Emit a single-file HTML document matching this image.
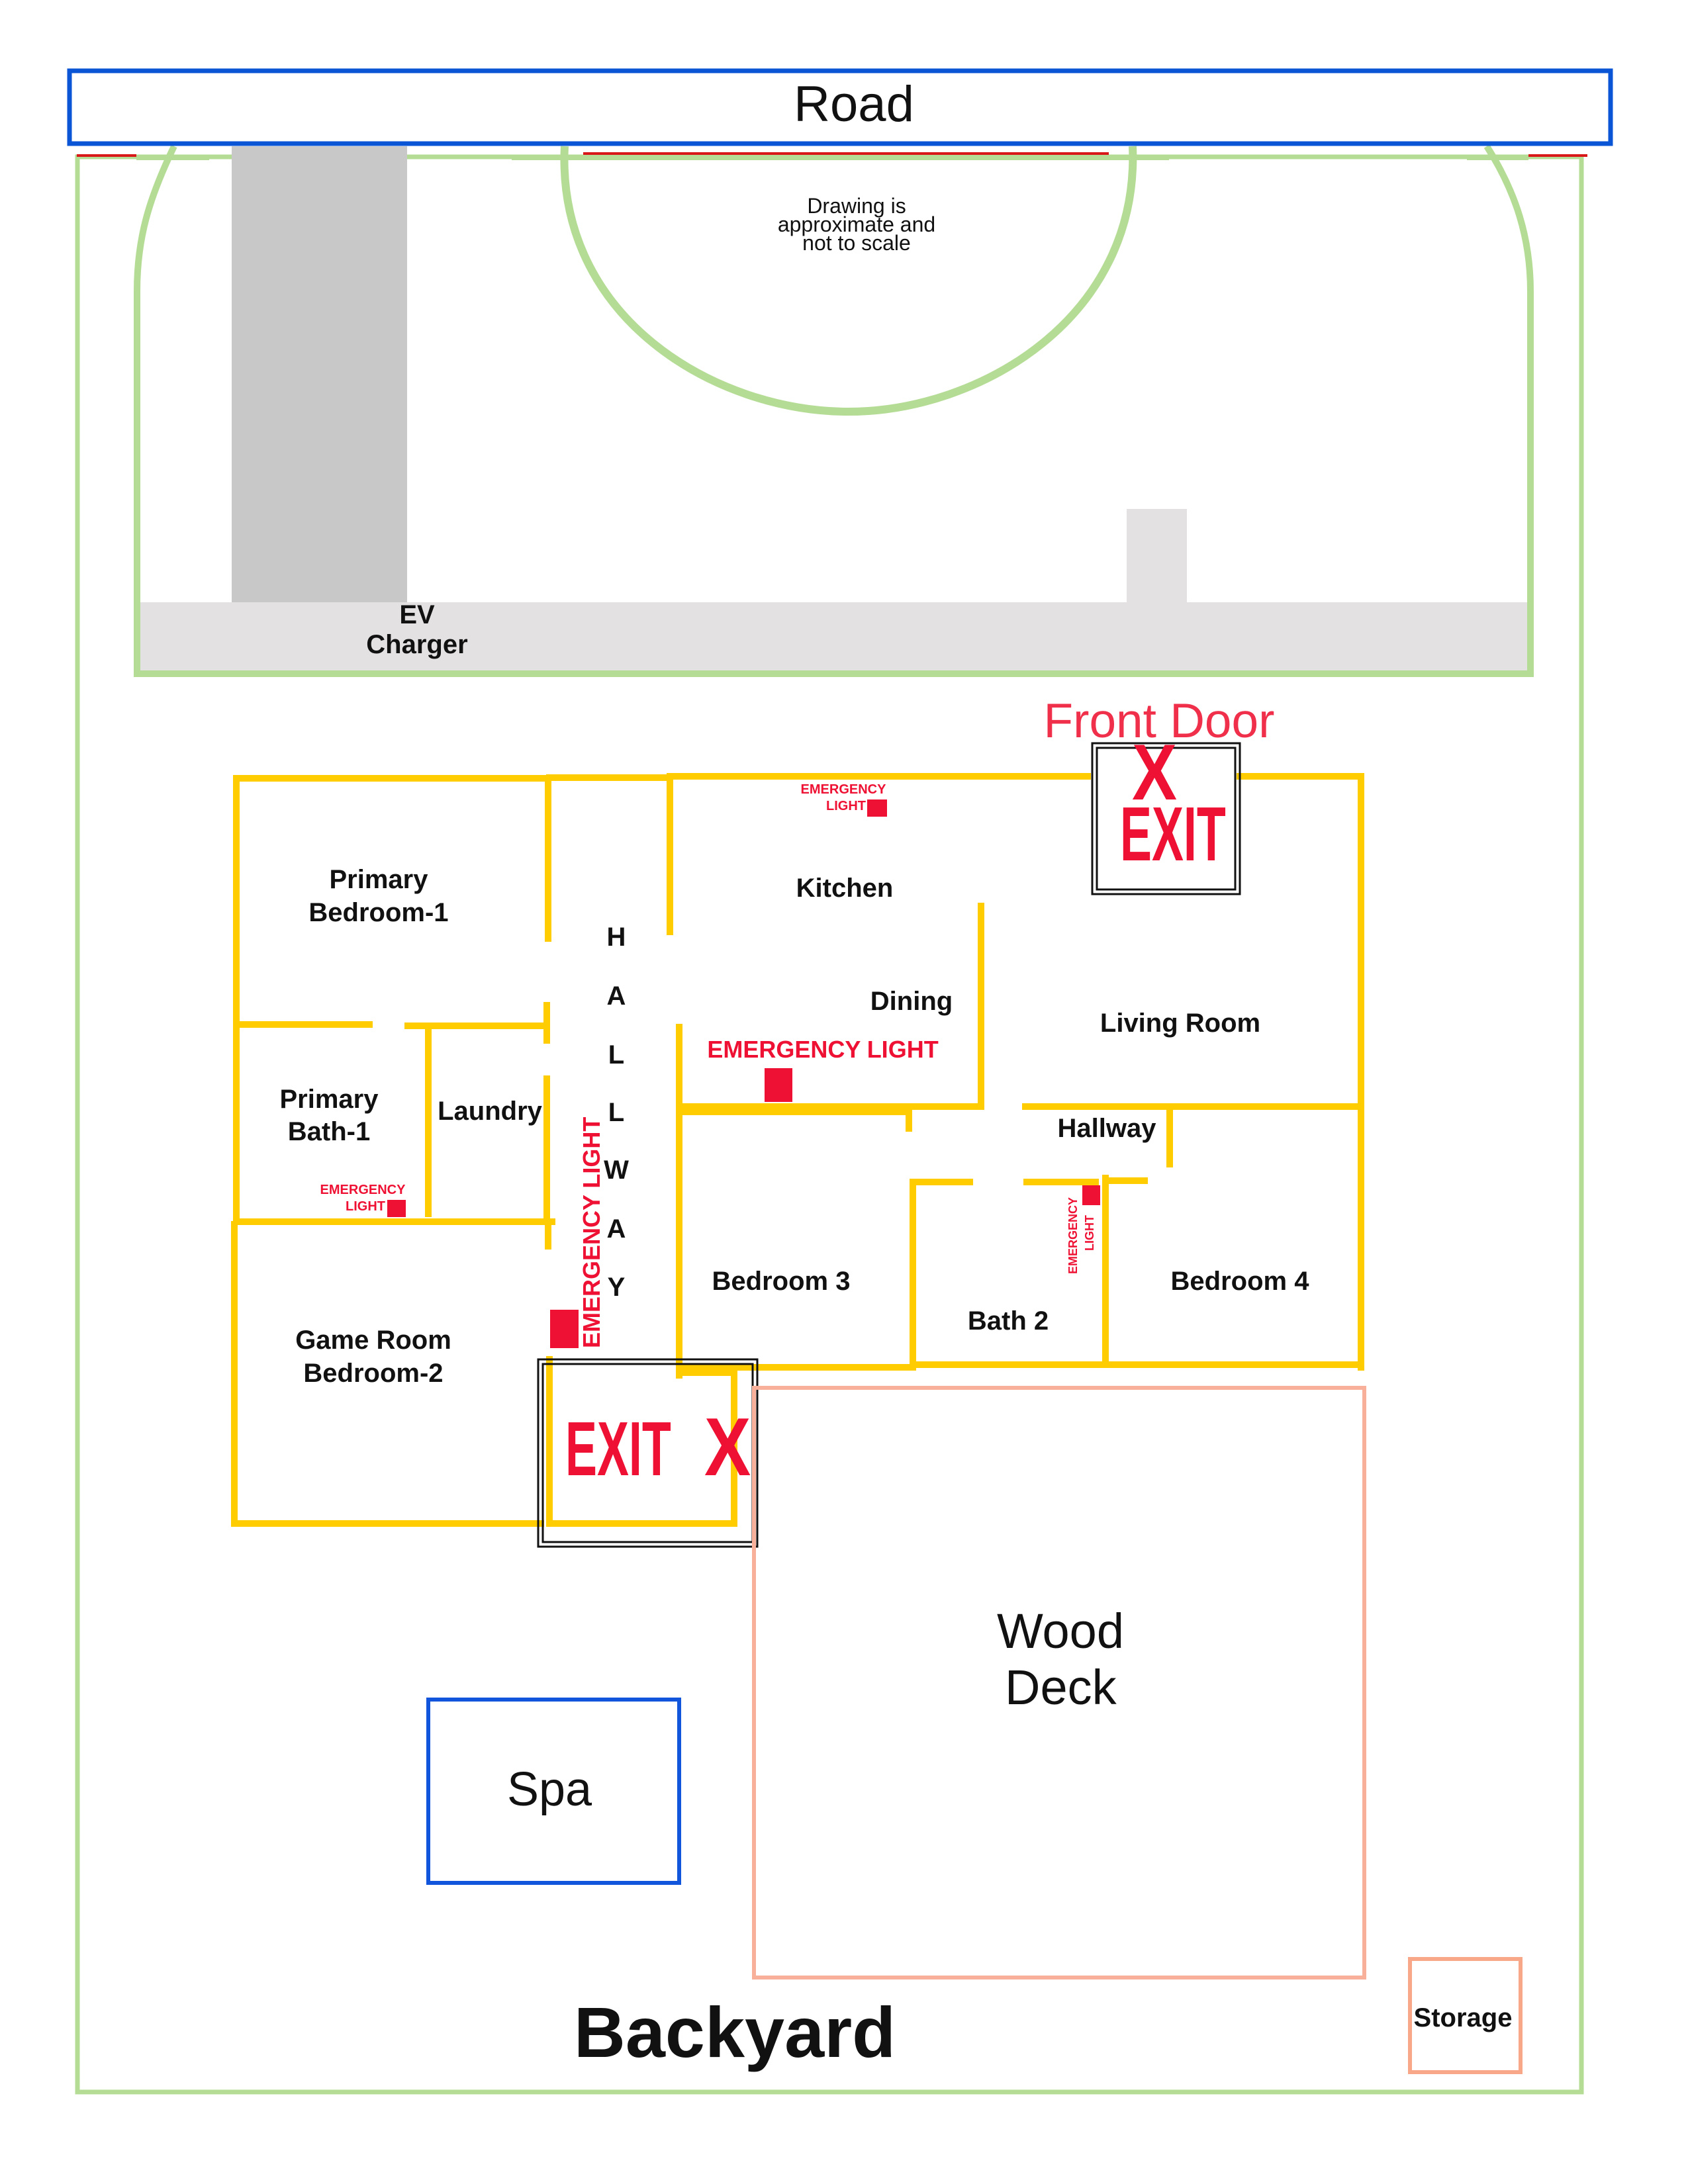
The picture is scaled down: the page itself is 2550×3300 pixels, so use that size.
<!DOCTYPE html>
<html><head><meta charset="utf-8"><style>
html,body{margin:0;padding:0;background:#fff;}
svg{display:block;}
text{font-family:"Liberation Sans",Arial,sans-serif;}
.b{font-weight:bold;fill:#111;font-size:40px;text-anchor:middle;}
.r{fill:#ee1133;font-weight:bold;}
</style></head><body>
<svg width="2550" height="3300" viewBox="0 0 2550 3300" xmlns="http://www.w3.org/2000/svg">
<rect x="117" y="237" width="2272" height="2924" fill="none" stroke="#b5dc95" stroke-width="7"/>
<g stroke="#b5dc95" stroke-width="8">
<line x1="206" y1="238" x2="316" y2="238"/><line x1="773" y1="238" x2="1766" y2="238"/><line x1="2216" y1="238" x2="2309" y2="238"/>
</g>
<g stroke="#d81818" stroke-width="4">
<line x1="116" y1="235" x2="206" y2="235"/><line x1="881" y1="232" x2="1675" y2="232"/><line x1="2309" y1="235" x2="2398" y2="235"/>
</g>
<rect x="350" y="221" width="265" height="689" fill="#c8c8c8"/>
<rect x="211" y="910" width="2096" height="104" fill="#e3e1e2"/>
<rect x="1702" y="769" width="91" height="141" fill="#e3e1e2"/>
<path d="M263,221 C225,300 207,360 207,440 L207,1018 L2312,1018 L2312,440 C2312,360 2290,290 2246,221" fill="none" stroke="#b5dc95" stroke-width="10"/>
<path d="M853,221 C840,480 1080,622 1282,622 C1480,622 1722,480 1711,221" fill="none" stroke="#b5dc95" stroke-width="12"/>
<rect x="105" y="107" width="2328" height="110" fill="#fff" stroke="#0a55d6" stroke-width="7"/>
<text x="1290" y="183" font-size="76" text-anchor="middle" fill="#111">Road</text>
<text x="1294" y="322" font-size="32" text-anchor="middle" fill="#111">Drawing is</text>
<text x="1294" y="350" font-size="32" text-anchor="middle" fill="#111">approximate and</text>
<text x="1294" y="378" font-size="32" text-anchor="middle" fill="#111">not to scale</text>
<text class="b" x="630" y="942" font-size="34">EV</text>
<text class="b" x="630" y="987" font-size="34">Charger</text>
<text x="1751" y="1114" font-size="73" text-anchor="middle" fill="#f0304a">Front Door</text>
<g stroke="#ffcc00" stroke-width="10" fill="none" stroke-linecap="square">
<polyline points="828,1418 828,1176 357,1176 357,1548"/>
<line x1="357" y1="1548" x2="558" y2="1548"/><line x1="616" y1="1550" x2="822" y2="1550"/>
<line x1="826" y1="1519" x2="826" y2="1572"/><line x1="826" y1="1630" x2="826" y2="1842"/>
<line x1="828" y1="1850" x2="828" y2="1883"/>
<line x1="357" y1="1548" x2="357" y2="1846"/>
<line x1="647" y1="1550" x2="647" y2="1834"/>
<line x1="357" y1="1846" x2="834" y2="1846"/>
<polyline points="354,1850 354,2302 817,2302"/>
<line x1="830" y1="1175" x2="1006" y2="1175"/>
<polyline points="1012,1408 1012,1173 1643,1173"/>
<polyline points="1873,1173 2056,1173 2056,2066"/>
<line x1="1482" y1="1369" x2="1482" y2="1672"/>
<line x1="1035" y1="1672" x2="1482" y2="1672"/>
<line x1="1026" y1="1552" x2="1026" y2="1672"/>
<polyline points="1373,1680 1026,1680 1026,2078"/>
<line x1="1373" y1="1676" x2="1373" y2="1705"/>
<line x1="1026" y1="2066" x2="1379" y2="2066"/>
<line x1="1549" y1="1672" x2="2056" y2="1672"/>
<line x1="1767" y1="1676" x2="1767" y2="1759"/>
<line x1="1379" y1="1786" x2="1465" y2="1786"/><line x1="1551" y1="1786" x2="1655" y2="1786"/>
<line x1="1379" y1="1786" x2="1379" y2="2066"/>
<line x1="1670" y1="1780" x2="1670" y2="2062"/>
<line x1="1670" y1="1784" x2="1729" y2="1784"/>
<line x1="1379" y1="2062" x2="2056" y2="2062"/>
<polyline points="830,2054 830,2302 1109,2302 1109,2074 1030,2074"/>
</g>
<rect x="1650" y="1123" width="223" height="228" fill="none" stroke="#111" stroke-width="3"/>
<rect x="1657" y="1130" width="209" height="214" fill="none" stroke="#111" stroke-width="3"/>
<rect x="813" y="2054" width="331" height="283" fill="none" stroke="#111" stroke-width="3"/>
<rect x="820" y="2061" width="317" height="269" fill="none" stroke="#111" stroke-width="3"/>
<text transform="translate(1692,1300) scale(0.62,1)" font-size="116" class="r">EXIT</text>
<text transform="translate(1710,1208) scale(0.85,1)" font-size="120" class="r">X</text>
<text transform="translate(854,2229) scale(0.62,1)" font-size="116" class="r">EXIT</text>
<text transform="translate(1064,2229) scale(0.85,1)" font-size="124" class="r">X</text>
<g fill="#ee1133">
<rect x="1310" y="1208" width="30" height="26"/>
<rect x="1155" y="1614" width="42" height="51"/>
<rect x="585" y="1813" width="28" height="26"/>
<rect x="831" y="1979" width="43" height="58"/>
<rect x="1635" y="1791" width="27" height="30"/>
</g>
<text class="b" x="572" y="1342">Primary</text>
<text class="b" x="572" y="1392">Bedroom-1</text>
<text class="b" x="1276" y="1355" font-size="43">Kitchen</text>
<text class="b" x="1377" y="1526">Dining</text>
<text class="r" x="1243" y="1598" font-size="36" text-anchor="middle">EMERGENCY LIGHT</text>
<text class="b" x="1783" y="1559" font-size="44">Living Room</text>
<text class="b" x="1672" y="1718" font-size="38">Hallway</text>
<g class="b" font-size="38">
<text x="931" y="1429">H</text><text x="931" y="1518">A</text><text x="931" y="1607">L</text>
<text x="931" y="1694">L</text><text x="931" y="1781">W</text><text x="931" y="1870">A</text><text x="931" y="1958">Y</text>
</g>
<text class="r" transform="translate(906,2037) rotate(-90)" font-size="36">EMERGENCY LIGHT</text>
<text class="b" x="497" y="1674">Primary</text>
<text class="b" x="497" y="1723">Bath-1</text>
<text class="b" x="740" y="1692" font-size="36">Laundry</text>
<text class="r" x="548" y="1804" font-size="20" text-anchor="middle">EMERGENCY</text>
<text class="r" x="582" y="1829" font-size="20" text-anchor="end">LIGHT</text>
<text class="r" x="1274" y="1199" font-size="20" text-anchor="middle">EMERGENCY</text>
<text class="r" x="1308" y="1224" font-size="20" text-anchor="end">LIGHT</text>
<text class="r" transform="translate(1627,1925) rotate(-90)" font-size="18">EMERGENCY</text>
<text class="r" transform="translate(1652,1890) rotate(-90)" font-size="18">LIGHT</text>
<text class="b" x="564" y="2038">Game Room</text>
<text class="b" x="564" y="2088">Bedroom-2</text>
<text class="b" x="1180" y="1949">Bedroom 3</text>
<text class="b" x="1523" y="2009">Bath 2</text>
<text class="b" x="1873" y="1949">Bedroom 4</text>
<rect x="1139" y="2097" width="922" height="891" fill="none" stroke="#f8b09a" stroke-width="6"/>
<text x="1506" y="2490" font-size="74" fill="#111">Wood</text>
<text x="1518" y="2575" font-size="74" fill="#111">Deck</text>
<rect x="647" y="2568" width="379" height="277" fill="none" stroke="#1155dd" stroke-width="6"/>
<text x="830" y="2728" font-size="72" text-anchor="middle" fill="#111">Spa</text>
<rect x="2130" y="2960" width="167" height="171" fill="none" stroke="#f8a888" stroke-width="6"/>
<text class="b" x="2210" y="3062" font-size="34">Storage</text>
<text x="1110" y="3108" font-size="108" text-anchor="middle" fill="#111" font-weight="bold">Backyard</text>
</svg>
</body></html>
